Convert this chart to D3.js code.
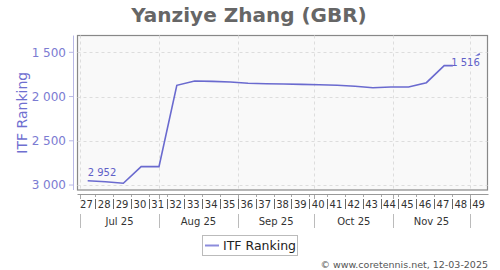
<!DOCTYPE html>
<html>
<head>
<meta charset="utf-8">
<script src="https://cdn.jsdelivr.net/npm/d3@7"></script>
<style>
  body { margin: 0; background: #fff; }
  svg { display: block; font-family: "DejaVu Sans", sans-serif; }
</style>
</head>
<body>
<svg id="chart" width="500" height="270"></svg>
<script>
// weekly ITF ranking, ISO weeks of 2025
const weeks = [27, 28, 29, 30, 31, 32, 33, 34, 35, 36, 37, 38, 39, 40, 41, 42, 43, 44, 45, 46, 47, 48, 49];
const ranking = [2952, 2962, 2980, 2792, 2792, 1873, 1824, 1828, 1836, 1850, 1855, 1858, 1862, 1866, 1873, 1884, 1900, 1892, 1892, 1843, 1651, 1651, 1516];
const months = ["Jul 25", "Aug 25", "Sep 25", "Oct 25", "Nov 25"];
const monthStarts = ["2025-07-01", "2025-08-01", "2025-09-01", "2025-10-01", "2025-11-01", "2025-12-01"];
const yTicks = [1500, 2000, 2500, 3000];

(function() {
const svg = d3.select("#chart");
const pL = 77.5, pR = 487.5, pT = 35.5, pB = 190;
const lineColor = "#6a6acf";
const fmt = v => d3.format(",")(v).replace(",", " ");

// monday of ISO week w in 2025 (week 1 starts Dec 30 2024)
const weekMonday = w => new Date(Date.UTC(2024, 11, 30 + (w - 1) * 7));
const pointDate = w => d3.utcDay.offset(weekMonday(w), 4);

const x = d3.scaleUtc().domain([weekMonday(27), weekMonday(50)]).range([pL, pR]);
const y = d3.scaleLinear().domain([1310, 3056]).range([pT, pB]);

// title
svg.append("text").attr("x", 249).attr("y", 22).attr("text-anchor", "middle")
   .style("font-size", "20px").style("font-weight", "bold").attr("fill", "#666").text("Yanziye Zhang (GBR)");

// plot background
svg.append("rect").attr("x", pL).attr("y", pT).attr("width", pR - pL).attr("height", pB - pT)
   .attr("fill", "#f9f9f9").attr("stroke", "#888").attr("stroke-width", 1.2);

// grid
svg.append("g").selectAll("line").data(yTicks).join("line")
   .attr("x1", pL).attr("x2", pR).attr("y1", d => Math.round(y(d)) + 0.5).attr("y2", d => Math.round(y(d)) + 0.5)
   .attr("stroke", "#ddd").attr("stroke-dasharray", "3,3");
svg.append("g").selectAll("line").data(monthStarts).join("line")
   .attr("x1", d => Math.round(x(new Date(d))) + 0.5).attr("x2", d => Math.round(x(new Date(d))) + 0.5)
   .attr("y1", pT).attr("y2", pB)
   .attr("stroke", "#ddd").attr("stroke-dasharray", "3,3");

// y axis
svg.append("line").attr("x1", 73.5).attr("x2", 73.5).attr("y1", pT).attr("y2", pB).attr("stroke", "#b8b8e6");
const yg = svg.append("g").selectAll("g").data(yTicks).join("g").attr("transform", d => `translate(0,${y(d)})`);
yg.append("line").attr("x1", 69).attr("x2", 73).attr("stroke", "#b8b8e6");
yg.append("text").attr("x", 66).attr("dy", "0.35em").attr("text-anchor", "end")
  .style("font-size", "12px").attr("fill", "#7b7bd2").text(d => fmt(d));
svg.append("text").attr("transform", `translate(27,${(pT + pB) / 2}) rotate(-90)`).attr("text-anchor", "middle")
   .style("font-size", "14px").attr("fill", "#6f6fd0").text("ITF Ranking");

// x axis
svg.append("line").attr("x1", pL).attr("x2", pR + 1).attr("y1", 194.5).attr("y2", 194.5).attr("stroke", "#999");
svg.append("g").selectAll("line").data(weeks.slice(1)).join("line")
   .attr("x1", d => Math.round(x(weekMonday(d))) + 0.5).attr("x2", d => Math.round(x(weekMonday(d))) + 0.5)
   .attr("y1", 195).attr("y2", 197).attr("stroke", "#aaa");
svg.append("g").selectAll("line").data(monthStarts).join("line")
   .attr("x1", d => Math.round(x(new Date(d))) + 0.5).attr("x2", d => Math.round(x(new Date(d))) + 0.5)
   .attr("y1", 195).attr("y2", 199).attr("stroke", "#aaa");

// week labels and separators
svg.append("g").selectAll("text").data(weeks).join("text")
   .attr("x", d => x(d3.utcHour.offset(weekMonday(d), 84))).attr("y", 208).attr("text-anchor", "middle")
   .style("font-size", "10px").attr("fill", "#333").text(d => d);
svg.append("g").selectAll("line").data(weeks.slice(1)).join("line")
   .attr("x1", d => Math.round(x(weekMonday(d))) + 0.5).attr("x2", d => Math.round(x(weekMonday(d))) + 0.5)
   .attr("y1", 199).attr("y2", 209).attr("stroke", "#666");

// month labels and separators
svg.append("g").selectAll("text").data(months).join("text")
   .attr("x", (d, i) => (x(new Date(monthStarts[i])) + x(new Date(monthStarts[i + 1]))) / 2).attr("y", 225)
   .attr("text-anchor", "middle").style("font-size", "10px").attr("fill", "#333").text(d => d);
svg.append("g").selectAll("line").data(monthStarts).join("line")
   .attr("x1", d => Math.round(x(new Date(d))) + 0.5).attr("x2", d => Math.round(x(new Date(d))) + 0.5)
   .attr("y1", 214).attr("y2", 228).attr("stroke", "#bbb");

// ranking line
const pts = weeks.map((w, i) => ({ date: pointDate(w), value: ranking[i] }));
svg.append("path").datum(pts)
   .attr("d", d3.line().x(d => x(d.date)).y(d => y(d.value)))
   .attr("fill", "none").attr("stroke", lineColor).attr("stroke-width", 1.6);

// first / last labels
const first = pts[0], last = pts[pts.length - 1];
svg.append("text").attr("x", x(first.date)).attr("y", y(first.value) - 5)
   .style("font-size", "10px").attr("fill", "#6060c8").text(fmt(first.value));
const lastLbl = svg.append("g");
lastLbl.append("rect").attr("x", x(last.date) - 27).attr("y", y(last.value) + 2).attr("width", 26).attr("height", 12).attr("fill", "#f9f9f9");
lastLbl.append("text").attr("x", x(last.date)).attr("y", y(last.value) + 12).attr("text-anchor", "end")
   .style("font-size", "10px").attr("fill", "#6060c8").text(fmt(last.value));

// legend
svg.append("rect").attr("x", 202.5).attr("y", 235.5).attr("width", 95).attr("height", 20)
   .attr("fill", "#fff").attr("stroke", "#bbb");
svg.append("line").attr("x1", 205).attr("x2", 219).attr("y1", 245.5).attr("y2", 245.5).attr("stroke", "#8c8cdc").attr("stroke-width", 2);
svg.append("text").attr("x", 223).attr("y", 250).style("font-size", "12.5px").attr("fill", "#222").text("ITF Ranking");

// footer
svg.append("text").attr("x", 488).attr("y", 268).attr("text-anchor", "end")
   .style("font-size", "9.5px").attr("fill", "#555").text("\u00a9 www.coretennis.net, 12-03-2025");
})();
</script>
</body>
</html>
